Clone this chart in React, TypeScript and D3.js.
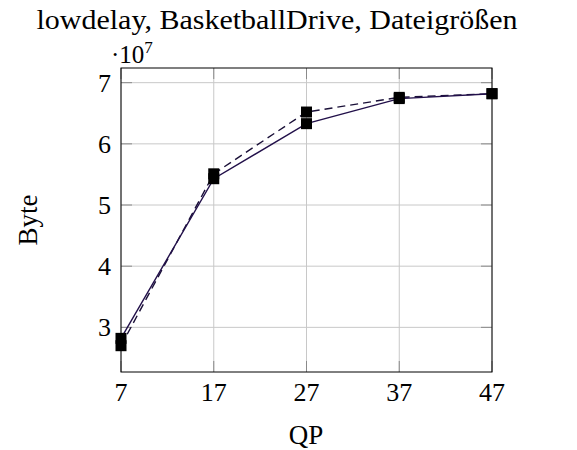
import React from "react";
import * as d3 from "d3";

// QP values on the x axis
const qp = [7, 17, 27, 37, 47];
// file sizes in bytes (scaled by 1e7 on the axis)
const solidBytes = [2.82e7, 5.43e7, 6.33e7, 6.74e7, 6.82e7];
const dashedBytes = [2.7e7, 5.51e7, 6.52e7, 6.76e7, 6.82e7];
const yTicks = [3e7, 4e7, 5e7, 6e7, 7e7];

const title = "lowdelay, BasketballDrive, Dateigrößen";
const font = "'Liberation Serif', 'DejaVu Serif', serif";

export default function App() {
  const width = 577;
  const height = 450;
  const left = 121;
  const right = 492;
  const top = 68;
  const bottom = 372;
  const tickLen = 11;

  const x = d3.scaleLinear().domain([7, 47]).range([left, right]);
  const y = d3.scaleLinear().domain([2.27e7, 7.24e7]).range([bottom, top]);

  const line = d3.line<number>()
    .x((_, i) => x(qp[i]))
    .y(d => y(d));

  const marker = 11;

  return (
    <svg width={width} height={height}
      style={{position: "absolute", left: 0, top: 0, background: "white"}}
      fontFamily={font}>
      {/* title */}
      <text x={277} y={29} fontSize={27} textAnchor="middle"
        textLength={481} lengthAdjust="spacingAndGlyphs">{title}</text>

      {/* grid */}
      <g stroke="#c8c8c8" strokeWidth={1}>
        {qp.map(v => <line key={"gx" + v} x1={x(v)} x2={x(v)} y1={top} y2={bottom}/>)}
        {yTicks.map(v => <line key={"gy" + v} x1={left} x2={right} y1={y(v)} y2={y(v)}/>)}
      </g>

      {/* ticks on all sides, pointing inward */}
      <g stroke="#8a8a8a" strokeWidth={1}>
        {qp.map(v => (
          <g key={"tx" + v}>
            <line x1={x(v)} x2={x(v)} y1={bottom} y2={bottom - tickLen}/>
            <line x1={x(v)} x2={x(v)} y1={top} y2={top + tickLen}/>
          </g>
        ))}
        {yTicks.map(v => (
          <g key={"ty" + v}>
            <line x1={left} x2={left + tickLen} y1={y(v)} y2={y(v)}/>
            <line x1={right} x2={right - tickLen} y1={y(v)} y2={y(v)}/>
          </g>
        ))}
      </g>

      {/* tick labels */}
      <g fontSize={26}>
        {qp.map(v => (
          <text key={"lx" + v} x={x(v)} y={401} textAnchor="middle">{v}</text>
        ))}
        {yTicks.map(v => (
          <text key={"ly" + v} x={111} y={y(v) + 9} textAnchor="end">{v / 1e7}</text>
        ))}
      </g>

      {/* scale factor */}
      <text x={111} y={63} fontSize={25}>
        ·10<tspan dy={-10} fontSize={17}>7</tspan>
      </text>

      {/* axis labels */}
      <text x={306} y={444} fontSize={27} textAnchor="middle">QP</text>
      <text transform={`translate(37,${(top + bottom) / 2}) rotate(-90)`}
        fontSize={27} textAnchor="middle">Byte</text>

      {/* series */}
      <path d={line(dashedBytes) ?? ""} fill="none" stroke="#1a1038"
        strokeWidth={1.4} strokeDasharray="8,5"/>
      <path d={line(solidBytes) ?? ""} fill="none" stroke="#22104a"
        strokeWidth={1.4}/>
      {[dashedBytes, solidBytes].map((s, k) => (
        <g key={"m" + k}>
          {s.map((v, i) => (
            <rect key={i} x={x(qp[i]) - marker / 2} y={y(v) - marker / 2}
              width={marker} height={marker} fill="black"/>
          ))}
        </g>
      ))}

      {/* frame */}
      <rect x={left} y={top} width={right - left} height={bottom - top}
        fill="none" stroke="black" strokeWidth={1}/>
    </svg>
  );
}
